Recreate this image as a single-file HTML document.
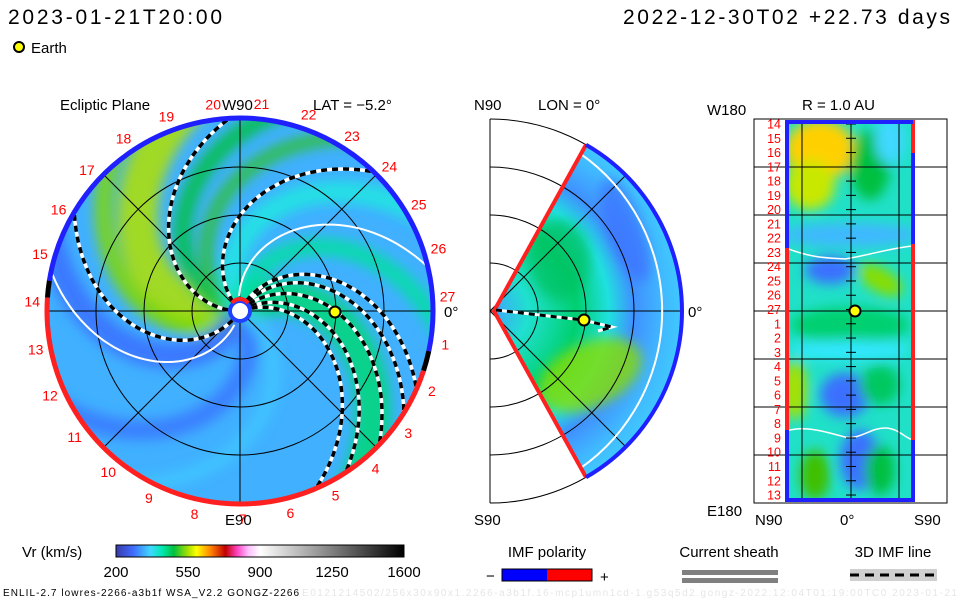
<!DOCTYPE html>
<html><head><meta charset="utf-8"><style>
html,body{margin:0;padding:0;background:#fff}
svg{display:block}
text{font-family:"Liberation Sans",sans-serif}
</style></head><body>
<svg id="s" width="960" height="600" viewBox="0 0 960 600" xmlns="http://www.w3.org/2000/svg">
<defs>
<linearGradient id="cbar" x1="0" x2="1" y1="0" y2="0">
<stop offset="0" stop-color="#3a3aa8"/><stop offset="0.06" stop-color="#3f6cff"/><stop offset="0.12" stop-color="#3fd8ff"/><stop offset="0.16" stop-color="#00e8b0"/><stop offset="0.2" stop-color="#00c040"/><stop offset="0.25" stop-color="#a8e000"/><stop offset="0.28" stop-color="#ffff00"/><stop offset="0.33" stop-color="#ff8000"/><stop offset="0.38" stop-color="#c00000"/><stop offset="0.42" stop-color="#ff40c0"/><stop offset="0.46" stop-color="#ffc0ff"/><stop offset="0.5" stop-color="#ffffff"/><stop offset="1" stop-color="#000000"/>
</linearGradient>
<radialGradient id="wedgeG" cx="490" cy="311" r="192" gradientUnits="userSpaceOnUse">
<stop offset="0" stop-color="#40a0ff"/><stop offset="0.2" stop-color="#20e0d0"/><stop offset="0.45" stop-color="#00d070"/><stop offset="0.62" stop-color="#20e0e0"/><stop offset="0.75" stop-color="#4090ff"/><stop offset="0.9" stop-color="#40b8ff"/><stop offset="1" stop-color="#40c8ff"/>
</radialGradient>
<filter id="blur" x="-20%" y="-20%" width="140%" height="140%"><feGaussianBlur stdDeviation="6"/></filter>
<clipPath id="discClip"><circle cx="240" cy="311" r="193"/></clipPath>
<clipPath id="wedgeClip"><path id="wedgeShape" d=""/></clipPath>
<clipPath id="boxClip"><rect x="786" y="120" width="127" height="382"/></clipPath>
</defs>

<text x="8" y="24" font-size="21" textLength="214">2023-01-21T20:00</text>
<text x="950" y="24" font-size="21" text-anchor="end" textLength="327">2022-12-30T02 +22.73 days</text>
<circle cx="19" cy="47" r="5" fill="#ffff00" stroke="#000" stroke-width="2"/>
<text x="31" y="53" font-size="15">Earth</text>

<g id="left">
<text x="60" y="110" font-size="15">Ecliptic Plane</text>
<text x="313" y="110" font-size="15">LAT = −5.2°</text>
<text x="222" y="110" font-size="15">W90</text>
<text x="225" y="525" font-size="15">E90</text>
<text x="444" y="317" font-size="15">0°</text>
<g clip-path="url(#discClip)">
<circle cx="240" cy="311" r="193" fill="#40b0ff"/>
<g id="bands" filter="url(#blur)"></g>
</g>
<g id="leftGrid"></g>
<g id="arms"></g>
<g id="rim"></g>
<g id="rimLabels"></g>
<circle cx="240" cy="311" r="10" fill="#fff" stroke="#2040ff" stroke-width="4"/>
<path d="M232,303 A10,10 0 0 1 248,303" fill="none" stroke="#ff2020" stroke-width="4"/>
<circle cx="335" cy="312" r="5.5" fill="#ffff00" stroke="#000" stroke-width="2"/>
</g>

<g id="mid">
<text x="474" y="110" font-size="15">N90</text>
<text x="538" y="110" font-size="15">LON = 0°</text>
<text x="474" y="525" font-size="15">S90</text>
<text x="688" y="317" font-size="15">0°</text>
<path id="wedge" fill="url(#wedgeG)"/>
<g clip-path="url(#wedgeClip)" filter="url(#blur)">
<ellipse cx="590" cy="375" rx="55" ry="32" fill="#88dd00" opacity="0.8" transform="rotate(-25 590 375)"/>
<ellipse cx="625" cy="230" rx="18" ry="55" fill="#3a6cff" opacity="0.7" transform="rotate(-20 625 230)"/>
<ellipse cx="560" cy="260" rx="30" ry="40" fill="#00c060" opacity="0.7"/>
</g>
<g id="midGrid"></g>
<path d="M585,147 A192,192 0 0 1 585,475" fill="none" stroke="#fff" stroke-width="2" transform="translate(-15,0)"/>
<path id="wedgeRed" fill="none" stroke="#ff2020" stroke-width="4"/>
<path id="wedgeBlue" fill="none" stroke="#2020ff" stroke-width="4"/>
<path d="M496,310 L583,320 L612,327 L598,331" fill="none" stroke="#fff" stroke-width="3"/>
<path d="M496,310 L583,320 L612,327 L598,331" fill="none" stroke="#000" stroke-width="3" stroke-dasharray="6 5"/>
<circle cx="584" cy="320" r="5.5" fill="#ffff00" stroke="#000" stroke-width="2"/>
</g>

<g id="right">
<text x="802" y="110" font-size="15">R = 1.0 AU</text>
<text x="707" y="115" font-size="15">W180</text>
<text x="707" y="516" font-size="15">E180</text>
<text x="755" y="525" font-size="15">N90</text>
<text x="840" y="525" font-size="15">0°</text>
<text x="914" y="525" font-size="15">S90</text>
<rect x="754" y="119" width="193" height="384" fill="#fff" stroke="#000" stroke-width="1"/>
<g clip-path="url(#boxClip)">
<rect x="786" y="120" width="127" height="382" fill="#20e0c8"/>
<g filter="url(#blur)">
<ellipse cx="820" cy="150" rx="35" ry="30" fill="#ffd000"/>
<ellipse cx="810" cy="185" rx="25" ry="25" fill="#c8e800"/>
<ellipse cx="870" cy="165" rx="20" ry="35" fill="#00c040"/>
<ellipse cx="890" cy="140" rx="15" ry="25" fill="#40d8ff"/>
<ellipse cx="850" cy="235" rx="70" ry="12" fill="#40b8ff"/>
<ellipse cx="830" cy="270" rx="25" ry="14" fill="#3a70ff"/>
<ellipse cx="880" cy="280" rx="25" ry="12" fill="#88dd00" transform="rotate(30 880 280)"/>
<ellipse cx="850" cy="325" rx="60" ry="18" fill="#00d070"/>
<ellipse cx="850" cy="350" rx="60" ry="10" fill="#30e8ff"/>
<ellipse cx="845" cy="395" rx="25" ry="22" fill="#3a70ff"/>
<ellipse cx="795" cy="390" rx="12" ry="30" fill="#a8e000"/>
<ellipse cx="880" cy="385" rx="20" ry="20" fill="#00c860"/>
<ellipse cx="815" cy="475" rx="15" ry="25" fill="#40c000"/>
<ellipse cx="860" cy="460" rx="20" ry="30" fill="#3a70ff"/>
<ellipse cx="880" cy="470" rx="15" ry="25" fill="#00c040"/>
</g>
<path d="M786,248 C810,258 830,258 845,259 C870,255 890,248 913,246" fill="none" stroke="#fff" stroke-width="1.5"/>
<path d="M786,431 C805,425 825,432 845,437 C860,440 870,428 885,428 C898,428 905,438 913,440" fill="none" stroke="#fff" stroke-width="1.5"/>
</g>
<g id="rightGrid"></g>
<line x1="787" y1="120" x2="787" y2="502" stroke="#2020ff" stroke-width="4"/>
<line x1="787" y1="248" x2="787" y2="430" stroke="#ff2020" stroke-width="4"/>
<line x1="913" y1="120" x2="913" y2="502" stroke="#2020ff" stroke-width="4"/>
<line x1="913" y1="120" x2="913" y2="153" stroke="#ff2020" stroke-width="4"/>
<line x1="913" y1="244" x2="913" y2="440" stroke="#ff2020" stroke-width="4"/>
<line x1="786" y1="122" x2="913" y2="122" stroke="#2020ff" stroke-width="4"/>
<line x1="786" y1="500" x2="913" y2="500" stroke="#2020ff" stroke-width="4"/>
<g id="rightLabels"></g>
<circle cx="855" cy="311" r="5.5" fill="#ffff00" stroke="#000" stroke-width="2"/>
</g>

<text x="22" y="557" font-size="15">Vr (km/s)</text>
<rect x="116" y="545" width="288" height="12" fill="url(#cbar)" stroke="#000" stroke-width="1"/>
<g id="cbarTicks"></g>
<text x="547" y="557" font-size="15" text-anchor="middle">IMF polarity</text>
<rect x="502" y="569" width="45" height="12" fill="#0000ff"/>
<rect x="547" y="569" width="45" height="12" fill="#ff0000"/>
<rect x="502" y="569" width="90" height="12" fill="none" stroke="#000"/>
<text x="486" y="581" font-size="15">−</text>
<text x="600" y="582" font-size="15">+</text>
<text x="729" y="557" font-size="15" text-anchor="middle">Current sheath</text>
<rect x="682" y="570" width="96" height="5" fill="#808080"/>
<rect x="682" y="578" width="96" height="5" fill="#808080"/>
<text x="893" y="557" font-size="15" text-anchor="middle">3D IMF line</text>
<rect x="850" y="569" width="87" height="12" fill="#d0d0d0"/>
<line x1="850" y1="575" x2="937" y2="575" stroke="#000" stroke-width="3" stroke-dasharray="9 6"/>
<text x="3" y="596" font-size="10" textLength="296">ENLIL-2.7 lowres-2266-a3b1f WSA_V2.2 GONGZ-2266</text>
<text x="302" y="596" font-size="10" fill="#e6e6e6" textLength="655">E0121214502/256x30x90x1.2266-a3b1f.16-mcp1umn1cd-1.g53q5d2.gongz-2022:12:04T01:19:00TC0  2023-01-21</text>
</svg>
<script>
const NS='http://www.w3.org/2000/svg';
const armPhases=[180,43,30,55,63,133,236,20];
const sheathPhases=[100,255];
const rimLabels=['1','2','3','4','5','6','7','8','9','10','11','12','13','14','15','16','17','18','19','20','21','22','23','24','25','26','27'];
const cbarTicks=['200','550','900','1250','1600'];
const rightLabels=['14','15','16','17','18','19','20','21','22','23','24','25','26','27','1','2','3','4','5','6','7','8','9','10','11','12','13'];
const CX=240,CY=311,R=193,K=0.45;
function el(t,a,p){const e=document.createElementNS(NS,t);for(const k in a)e.setAttribute(k,a[k]);p.appendChild(e);return e;}
function pt(r,deg,cx=CX,cy=CY){const a=deg*Math.PI/180;return [cx+r*Math.cos(a),cy-r*Math.sin(a)];}
function spiral(phi0,r0=12,r1=193){let d='';for(let r=r0;r<=r1;r+=4){const p=pt(r,phi0-K*r);d+=(d?'L':'M')+p[0].toFixed(1)+','+p[1].toFixed(1);}return d;}
const bands=document.getElementById('bands');
[[200,'#b0e000',40],[170,'#00c040',18],[150,'#30c030',14],[220,'#80d800',18],[250,'#3a70ff',26],[300,'#3a78ff',20],[38,'#00d878',36],[330,'#40c8ff',14],[120,'#20e8e0',22],[85,'#00e0a0',18]].forEach(b=>{
 const e=el('path',{d:spiral(b[0],0,260),fill:'none',stroke:b[1],'stroke-width':b[2],opacity:0.85},bands);
 
 
});
const lg=document.getElementById('leftGrid');
[48,96,144,193].forEach(r=>el('circle',{cx:CX,cy:CY,r:r,fill:'none',stroke:'#000','stroke-width':1},lg));
[0,45,90,135].forEach(a=>{const p=pt(R,a),q=pt(R,a+180);el('line',{x1:p[0],y1:p[1],x2:q[0],y2:q[1],stroke:'#000','stroke-width':1},lg);});
const ag=document.getElementById('arms');
sheathPhases.forEach(ph=>{const e=el('path',{d:spiral(ph,15),fill:'none',stroke:'#fff','stroke-width':2},ag);
 
 });
armPhases.forEach(ph=>{const d=spiral(ph);
 el('path',{d:d,fill:'none',stroke:'#fff','stroke-width':3.5},ag);
 const e=el('path',{d:d,fill:'none',stroke:'#000','stroke-width':3.5,'stroke-dasharray':'6 5'},ag);
 
 });
const rg=document.getElementById('rim');
function arc(a0,a1,col){const p=pt(R,a0),q=pt(R,a1);const large=Math.abs(a1-a0)>180?1:0;
 const e=el('path',{d:`M${p[0]},${p[1]} A${R},${R} 0 ${large} 0 ${q[0]},${q[1]}`,fill:'none',stroke:col,'stroke-width':5},rg);
 
 }
arc(-12,171,'#2020ff');arc(171,176,'#000');arc(176,342,'#ff2020');arc(342,348,'#000');
const rl=document.getElementById('rimLabels');
rimLabels.forEach((s,i)=>{const n=i+1;const a=4-13.33*(n%27);const p=pt(208,a);
 const t=el('text',{x:p[0],y:p[1]+5,'font-size':14,fill:'#ff0000','text-anchor':'middle'},rl);t.textContent=s;
 
 });
const MX=490,MR=192;
const a=pt(MR,60,MX,CY),b=pt(MR,-60,MX,CY);
const wd=`M${MX+4},${CY} L${a[0]},${a[1]} A${MR},${MR} 0 0 1 ${b[0]},${b[1]} Z`;
document.getElementById('wedge').setAttribute('d',wd);
document.getElementById('wedgeShape').setAttribute('d',wd);
document.getElementById('wedgeRed').setAttribute('d',`M${a[0]},${a[1]} L${MX+4},${CY} L${b[0]},${b[1]}`);
document.getElementById('wedgeBlue').setAttribute('d',`M${a[0]},${a[1]} A${MR},${MR} 0 0 1 ${b[0]},${b[1]}`);
const mg=document.getElementById('midGrid');
[48,96,144,192].forEach(r=>el('path',{d:`M${MX},${CY-r} A${r},${r} 0 0 1 ${MX},${CY+r}`,fill:'none',stroke:'#000','stroke-width':1},mg));
el('line',{x1:MX,y1:CY-MR,x2:MX,y2:CY+MR,stroke:'#000'},mg);
el('line',{x1:MX,y1:CY,x2:MX+MR,y2:CY,stroke:'#000'},mg);
[45,-45].forEach(an=>{const p=pt(MR,an,MX,CY);el('line',{x1:MX,y1:CY,x2:p[0],y2:p[1],stroke:'#000'},mg);});
const rgd=document.getElementById('rightGrid');
[167,215,263,311,359,407,455].forEach(y=>el('line',{x1:754,y1:y,x2:947,y2:y,stroke:'#000'},rgd));
[802,851,899].forEach(x=>el('line',{x1:x,y1:120,x2:x,y2:502,stroke:'#000'},rgd));
const rlab=document.getElementById('rightLabels');
rightLabels.forEach((s,i)=>{const y=124+i*14.27;
 el('line',{x1:846,y1:y,x2:856,y2:y,stroke:'#000'},rgd);
 const t=el('text',{x:781,y:y+4.5,'font-size':12.5,fill:'#ff0000','text-anchor':'end'},rlab);t.textContent=s;
 
 });
const cg=document.getElementById('cbarTicks');
cbarTicks.forEach((s,i)=>{const t=el('text',{x:116+i*72,y:577,'font-size':15,'text-anchor':'middle'},cg);t.textContent=s;
 
 });
</script>
</body></html>
